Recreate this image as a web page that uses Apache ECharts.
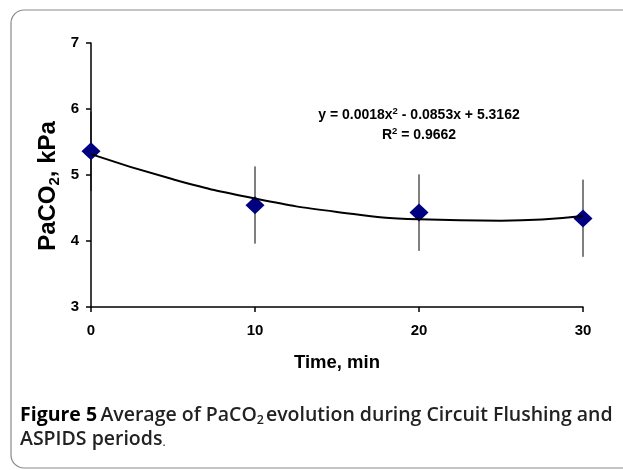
<!DOCTYPE html>
<html>
<head>
<meta charset="utf-8">
<script src="https://cdn.jsdelivr.net/npm/echarts@6/dist/echarts.min.js"></script>
<style>html,body{margin:0;padding:0;background:#fff}#c{width:623px;height:470px}</style>
</head>
<body>
<div id="c"></div>
<script>
// Data
var times = [0, 10, 20, 30];
var means = [5.36, 4.54, 4.43, 4.34];
var errLow = [4.76, 3.96, 3.85, 3.76];
var errHigh = [5.96, 5.13, 5.01, 4.93];
// Polynomial trend line (as drawn) sampled at these times
var trendX = [0, 5, 10, 15, 20, 25, 30];
var trendY = [5.316, 4.935, 4.643, 4.441, 4.330, 4.308, 4.377];
var yTicks = [3, 4, 5, 6, 7];
var xTicks = [0, 10, 20, 30];

var chart = echarts.init(document.getElementById('c'));
var scatterData = times.map(function (t, i) { return [t, means[i]]; });
var errData = times.map(function (t, i) { return [t, errLow[i], errHigh[i]]; });
var trendData = trendX.map(function (t, i) { return [t, trendY[i]]; });
var AR = 'Liberation Sans, Arial';
var CAP = 'Open Sans';

chart.setOption({
  animation: false,
  backgroundColor: '#fff',
  grid: { left: 91, right: 40, top: 43, height: 264 },
  xAxis: {
    type: 'value', min: 0, max: 30, interval: 10,
    axisLine: { lineStyle: { color: '#000', width: 1.5 } },
    axisTick: { show: true, length: 5, lineStyle: { color: '#000', width: 1.5 } },
    axisLabel: { color: '#000', fontFamily: AR, fontWeight: 'bold', fontSize: 15, margin: 16,
      formatter: function (v) { return xTicks.indexOf(v) >= 0 ? String(v) : ''; } },
    splitLine: { show: false },
    name: 'Time, min', nameLocation: 'middle', nameGap: 46,
    nameTextStyle: { color: '#000', fontFamily: AR, fontWeight: 'bold', fontSize: 18.5 }
  },
  yAxis: {
    type: 'value', min: 3, max: 7, interval: 1,
    axisLine: { show: true, lineStyle: { color: '#000', width: 1.5 } },
    axisTick: { show: true, length: 5, lineStyle: { color: '#000', width: 1.5 } },
    axisLabel: { color: '#000', fontFamily: AR, fontWeight: 'bold', fontSize: 15, margin: 12,
      formatter: function (v) { return yTicks.indexOf(v) >= 0 ? String(v) : ''; } },
    splitLine: { show: false }
  },
  series: [
    {
      type: 'custom', z: 1,
      data: errData,
      renderItem: function (params, api) {
        var x = api.value(0);
        var lo = api.coord([x, api.value(1)]);
        var hi = api.coord([x, api.value(2)]);
        return { type: 'line', shape: { x1: lo[0], y1: lo[1], x2: hi[0], y2: hi[1] },
          style: { stroke: '#000', lineWidth: 1 } };
      }
    },
    {
      type: 'scatter', z: 2, symbol: 'diamond', symbolSize: [19, 18],
      itemStyle: { color: '#000080', opacity: 1 },
      data: scatterData
    },
    {
      type: 'line', z: 3, smooth: 0.5, showSymbol: false, symbol: 'none',
      lineStyle: { color: '#000', width: 2 },
      data: trendData
    }
  ],
  graphic: [
    { type: 'rect', shape: { x: 11, y: 10, width: 660, height: 458, r: 13 },
      style: { fill: 'none', stroke: '#8a8a8a', lineWidth: 1.2 }, z: 0, silent: true },
    { type: 'text', x: 48, y: 186, rotation: Math.PI / 2, z: 10,
      style: { text: '{a|PaCO}{s|2}{a|, kPa}', align: 'center', verticalAlign: 'middle',
        rich: {
          a: { fontFamily: AR, fontWeight: 'bold', fontSize: 24, fill: '#000' },
          s: { fontFamily: AR, fontWeight: 'bold', fontSize: 15, fill: '#000', padding: [13, 0, 0, 0] }
        } } },
    { type: 'text', x: 419, y: 115, z: 10,
      style: { text: '{a|y = 0.0018x}{p|2}{a| - 0.0853x + 5.3162}', align: 'center', verticalAlign: 'middle',
        rich: {
          a: { fontFamily: AR, fontWeight: 'bold', fontSize: 14, fill: '#000' },
          p: { fontFamily: AR, fontWeight: 'bold', fontSize: 9.5, fill: '#000', padding: [0, 0, 8, 0] }
        } } },
    { type: 'text', x: 419, y: 135, z: 10,
      style: { text: '{a|R}{p|2}{a| = 0.9662}', align: 'center', verticalAlign: 'middle',
        rich: {
          a: { fontFamily: AR, fontWeight: 'bold', fontSize: 14, fill: '#000' },
          p: { fontFamily: AR, fontWeight: 'bold', fontSize: 9.5, fill: '#000', padding: [0, 0, 8, 0] }
        } } },
    { type: 'text', x: 20, y: 415, z: 10,
      style: { text: '{b|Figure 5} {r|Average of PaCO}{s|2}{r|evolution during Circuit Flushing and}', verticalAlign: 'middle',
        rich: {
          b: { fontFamily: CAP, fontWeight: 'bold', fontSize: 19.5, fill: '#000' },
          r: { fontFamily: CAP, fontWeight: 600, fontSize: 19.5, fill: '#222' },
          s: { fontFamily: CAP, fontWeight: 600, fontSize: 12.5, fill: '#222', padding: [11, 2, 0, 0] }
        } } },
    { type: 'text', x: 20, y: 439, z: 10,
      style: { text: '{r|ASPIDS periods}{d|.}', verticalAlign: 'middle',
        rich: {
          r: { fontFamily: CAP, fontWeight: 600, fontSize: 19.5, fill: '#222' },
          d: { fontFamily: CAP, fontSize: 12, fill: '#222', padding: [7, 0, 0, 0] }
        } } }
  ]
});
</script>
</body>
</html>
